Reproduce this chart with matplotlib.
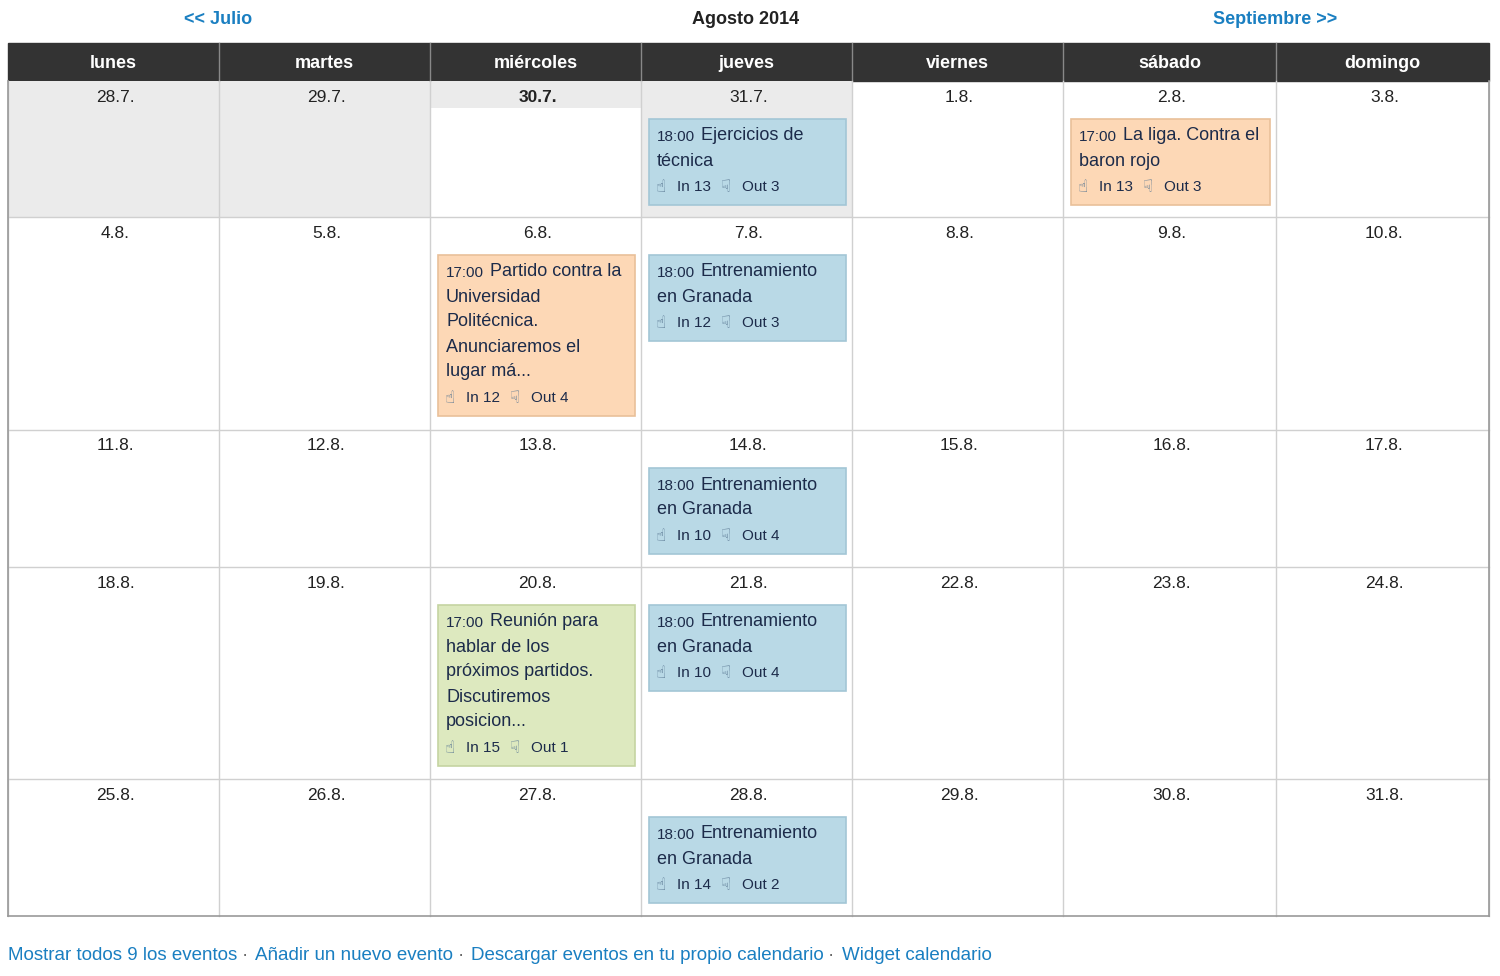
import matplotlib
matplotlib.use("Agg")
import matplotlib.pyplot as plt
from matplotlib.patches import Rectangle

days = ["lunes", "martes", "miércoles", "jueves", "viernes", "sábado", "domingo"]
dates = [["28.7.", "29.7.", "30.7.", "31.7.", "1.8.", "2.8.", "3.8."],
         ["4.8.", "5.8.", "6.8.", "7.8.", "8.8.", "9.8.", "10.8."],
         ["11.8.", "12.8.", "13.8.", "14.8.", "15.8.", "16.8.", "17.8."],
         ["18.8.", "19.8.", "20.8.", "21.8.", "22.8.", "23.8.", "24.8."],
         ["25.8.", "26.8.", "27.8.", "28.8.", "29.8.", "30.8.", "31.8."]]
ev_rows = [0, 0, 1, 1, 2, 3, 3, 4]
ev_cols = [3, 5, 2, 3, 3, 2, 3, 3]
ev_time = ["18:00", "17:00", "17:00", "18:00", "18:00", "17:00", "18:00", "18:00"]
ev_text = [["Ejercicios de", "técnica"], ["La liga. Contra el", "baron rojo"],
           ["Partido contra la", "Universidad", "Politécnica.", "Anunciaremos el", "lugar má..."],
           ["Entrenamiento", "en Granada"], ["Entrenamiento", "en Granada"],
           ["Reunión para", "hablar de los", "próximos partidos.", "Discutiremos", "posicion..."],
           ["Entrenamiento", "en Granada"], ["Entrenamiento", "en Granada"]]
ev_in = [13, 13, 12, 12, 10, 15, 10, 14]
ev_out = [3, 3, 4, 3, 4, 1, 4, 2]
ev_kind = ["blue", "orange", "orange", "blue", "blue", "green", "blue", "blue"]

colx = [8, 219, 430, 641, 852, 1063, 1276, 1489]
rowy = [81, 217, 430, 567, 779, 916]
fills = {"blue": ("#b9d9e6", "#a3c6d6"), "orange": ("#fdd8b6", "#e9c09a"), "green": ("#dde9bf", "#c5d4a2")}
FONT = "Liberation Sans"
TXT = "#1c2b4a"
LINK = "#1a7fc1"
ICON = "#5a7893"

fig = plt.figure(figsize=(15, 9.76), dpi=100)
ax = fig.add_axes([0, 0, 1, 1])
ax.set_xlim(0, 1500); ax.set_ylim(976, 0); ax.axis("off")

ax.text(218, 20, "<< Julio", ha="center", va="center", fontsize=13, color=LINK, weight="bold", family=FONT)
ax.text(746, 20, "Agosto 2014", ha="center", va="center", fontsize=13, color="#222", weight="bold", family=FONT)
ax.text(1275, 20, "Septiembre >>", ha="center", va="center", fontsize=13, color=LINK, weight="bold", family=FONT)

ax.add_patch(Rectangle((8, 43), 1481, 38, color="#333333"))
for i, d in enumerate(days):
    cx = (colx[i] + colx[i + 1]) / 2
    ax.text(cx, 63, d, ha="center", va="center", fontsize=13, color="white", weight="bold", family=FONT)
    if i > 0:
        ax.plot([colx[i]] * 2, [43, 81], color="#888", lw=1)

for c in [0, 1, 3]:
    ax.add_patch(Rectangle((colx[c], rowy[0]), colx[c + 1] - colx[c], rowy[1] - rowy[0], color="#ebebeb", lw=0))
ax.add_patch(Rectangle((colx[2], rowy[0]), colx[3] - colx[2], 27, color="#ebebeb", lw=0))

for x in colx:
    ax.plot([x, x], [rowy[0], rowy[-1]], color="#d0d0d0", lw=1)
for y in rowy[1:-1]:
    ax.plot([colx[0], colx[-1]], [y, y], color="#d0d0d0", lw=1)
ax.plot([colx[0], colx[-1]], [rowy[-1]] * 2, color="#999", lw=1.2)
ax.plot([colx[0]] * 2, [rowy[0], rowy[-1]], color="#999", lw=1.2)
ax.plot([colx[-1]] * 2, [rowy[0], rowy[-1]], color="#999", lw=1.2)

for r, row in enumerate(dates):
    for c, d in enumerate(row):
        cx = (colx[c] + colx[c + 1]) / 2 + 2
        bold = (r == 0 and c == 2)
        ax.text(cx, rowy[r] + 16, d, ha="center", va="center", fontsize=12.5, color="#222",
                weight="bold" if bold else "normal", family=FONT)

for k in range(len(ev_rows)):
    r, c = ev_rows[k], ev_cols[k]
    x0 = colx[c] + 8; w = colx[c + 1] - colx[c] - 14
    y0 = rowy[r] + 38
    n = len(ev_text[k])
    h = 36 + 25 * n
    fc, ec = fills[ev_kind[k]]
    ax.add_patch(Rectangle((x0, y0), w, h, facecolor=fc, edgecolor=ec, lw=1.2))
    for j, line in enumerate(ev_text[k]):
        y = y0 + 17 + 25 * j
        if j == 0:
            ax.text(x0 + 8, y + 1, ev_time[k], ha="left", va="center", fontsize=11, color=TXT, family=FONT)
            ax.text(x0 + 52, y, line, ha="left", va="center", fontsize=13, color=TXT, family=FONT)
        else:
            ax.text(x0 + 8, y, line, ha="left", va="center", fontsize=13, color=TXT, family=FONT)
    yc = y0 + 18 + 25 * n
    ax.text(x0 + 7, yc, "\u261d", ha="left", va="center", fontsize=12, color=ICON, family="DejaVu Sans")
    ax.text(x0 + 28, yc, f"In {ev_in[k]}", ha="left", va="center", fontsize=11, color=TXT, family=FONT)
    ax.text(x0 + 72, yc, "\u261f", ha="left", va="center", fontsize=12, color=ICON, family="DejaVu Sans")
    ax.text(x0 + 93, yc, f"Out {ev_out[k]}", ha="left", va="center", fontsize=11, color=TXT, family=FONT)

links = ["Mostrar todos 9 los eventos", "Añadir un nuevo evento", "Descargar eventos en tu propio calendario", "Widget calendario"]
x = 8
fig.canvas.draw()
for i, l in enumerate(links):
    t = ax.text(x, 955, l, ha="left", va="center", fontsize=13.5, color=LINK, family=FONT)
    bb = t.get_window_extent(renderer=fig.canvas.get_renderer())
    x = bb.x1 + 4
    if i < len(links) - 1:
        ax.text(x, 955, "·", ha="left", va="center", fontsize=13.5, color="#666", family=FONT)
        x += 14

fig.savefig("out.png", dpi=100)
